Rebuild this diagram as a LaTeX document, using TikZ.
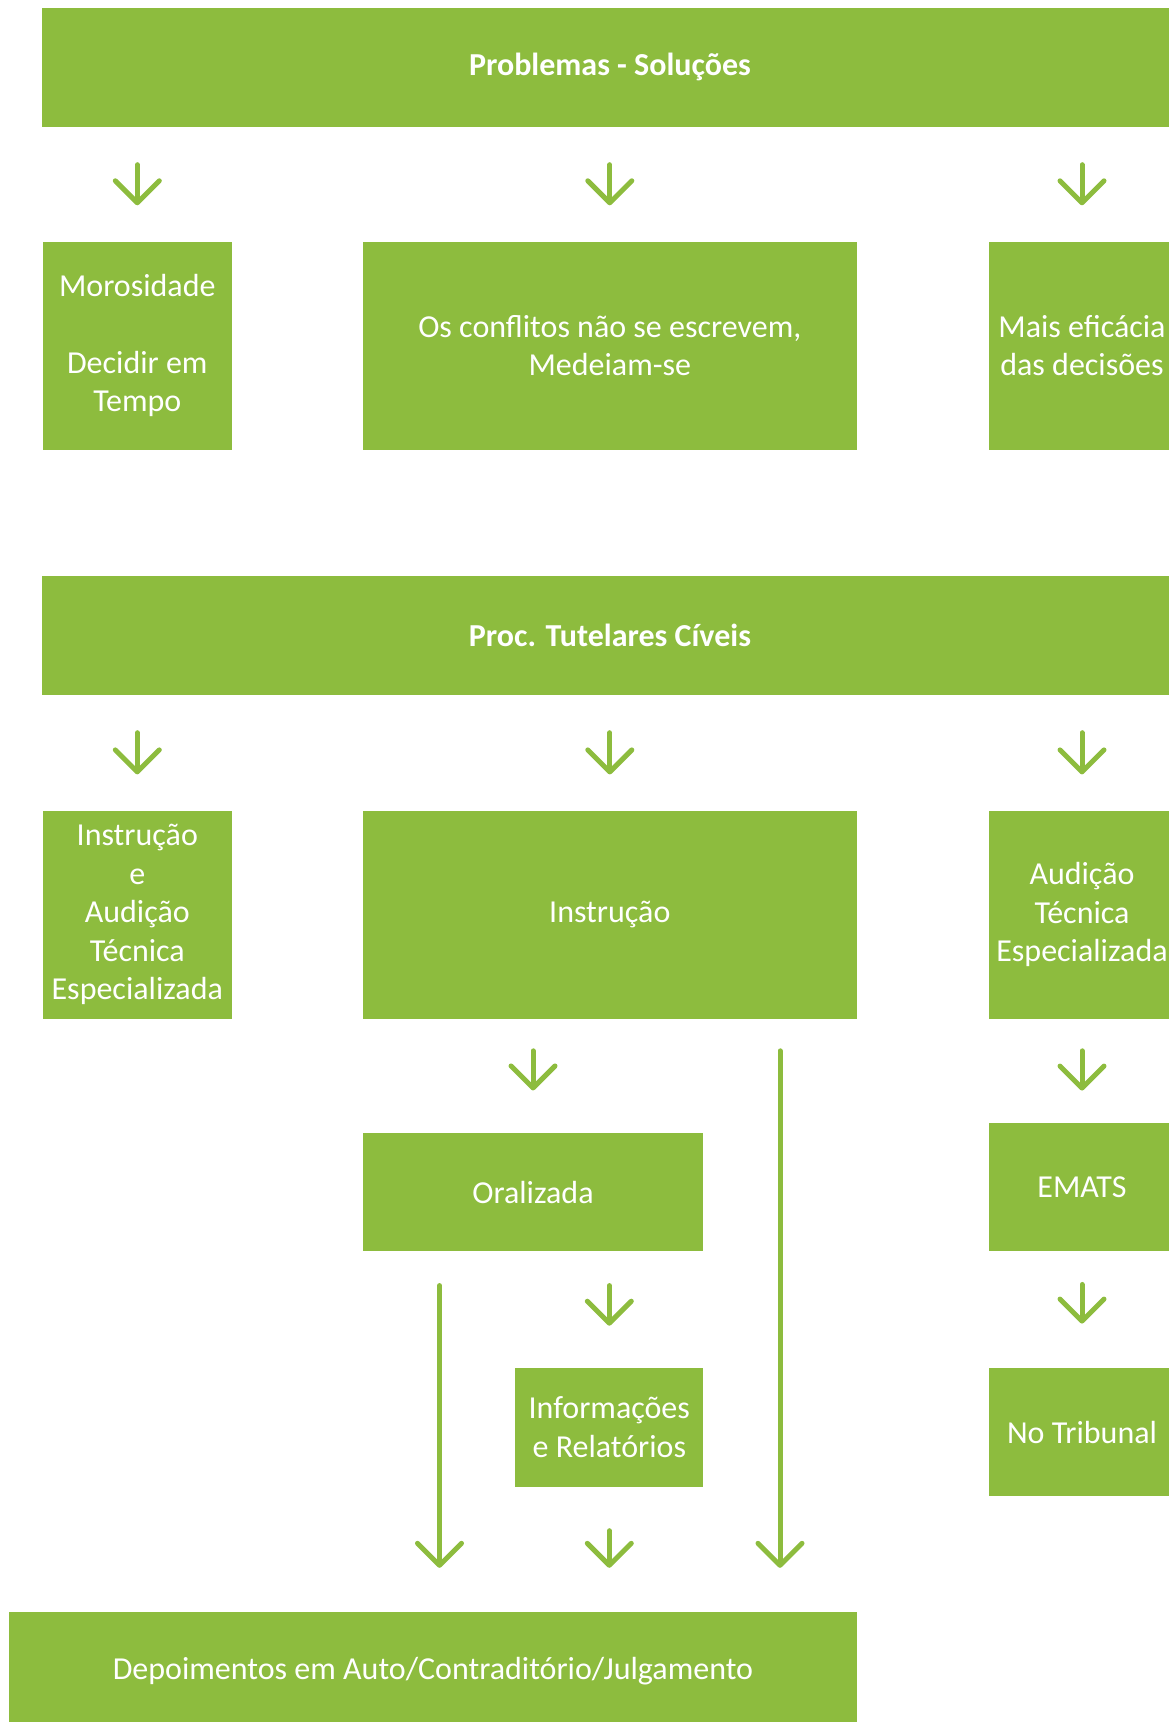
\documentclass[tikz,border=0pt]{standalone}
\usepackage{fontspec}
\setmainfont{Carlito}
\usetikzlibrary{arrows.meta}
\definecolor{leafgreen}{RGB}{141,188,62}

\begin{document}
\begin{tikzpicture}[x=1pt,y=-1pt]
	\tikzstyle{banner} = [fill=leafgreen,text=white,font=\bfseries\fontsize{32}{38.5}\selectfont,minimum height=119pt,inner sep=0pt]
	\tikzstyle{box} = [fill=leafgreen,text=white,font=\fontsize{32}{38.5}\selectfont,align=center,inner sep=0pt]
	\tikzstyle{flow} = [draw=leafgreen,line width=5pt,line cap=round,-{Straight Barb[length=22pt,width=44pt,round]}]
	\clip (0,0) rectangle (1169,1722);
	% problems row
	\node[banner,minimum width=1136pt] (problems) at (610,67) {Problemas - Soluções};
	\node[box,minimum width=189pt,minimum height=208pt] (moro) at (137.3,345.5) {Morosidade\\[38.5pt]Decidir em\\Tempo};
	\node[box,minimum width=494pt,minimum height=208pt] (conflitos) at (609.8,345.5) {Os conflitos não se escrevem,\\Medeiam-se};
	\node[box,minimum width=187pt,minimum height=208pt] (eficacia) at (1082,345.5) {Mais eficácia\\das decisões};
	% tutelares row
	\node[banner,minimum width=1136pt] (tutelares) at (610,635) {Proc. Tutelares Cíveis};
	\node[box,minimum width=189pt,minimum height=208pt] (instaud) at (137.3,914.6) {Instrução\\e\\Audição\\Técnica\\Especializada};
	\node[box,minimum width=494pt,minimum height=208pt] (instrucao) at (609.8,914.6) {Instrução};
	\node[box,minimum width=187pt,minimum height=208pt] (audicao) at (1082,914.6) {Audição\\Técnica\\Especializada};
	% lower boxes
	\node[box,minimum width=340.6pt,minimum height=118.7pt] (oral) at (533,1192) {Oralizada};
	\node[box,minimum width=187pt,minimum height=128.5pt] (emats) at (1082,1187) {EMATS};
	\node[box,minimum width=188pt,minimum height=118.6pt] (info) at (609.3,1427.2) {Informações\\e Relatórios};
	\node[box,minimum width=187pt,minimum height=128.5pt] (tribunal) at (1082,1432) {No Tribunal};
	\node[box,minimum width=848pt,minimum height=119pt] (depo) at (433,1671.5) {Depoimentos em Auto/Contraditório/Julgamento};
	% arrows banner->boxes
	\foreach \n in {moro,conflitos,eficacia}
		\draw[flow,shorten <=38pt,shorten >=36pt] (\n.north |- problems.south) -- (\n.north);
	\foreach \n in {instaud,instrucao,audicao}
		\draw[flow,shorten <=38pt,shorten >=36pt] (\n.north |- tutelares.south) -- (\n.north);
	% instrucao branch
	\draw[flow,shorten <=32pt,shorten >=42pt] (oral.north |- instrucao.south) -- (oral.north);
	\draw[flow,shorten <=34pt,shorten >=42pt] (info.north |- oral.south) -- (info.north);
	\draw[flow,shorten <=44pt,shorten >=44pt] (info.south) -- (info.south |- depo.north);
	\draw[flow,shorten <=34pt,shorten >=44pt] ([xshift=77pt]oral.south west) -- ([xshift=77pt]oral.south west |- depo.north);
	\draw[flow,shorten <=32pt,shorten >=44pt] ([xshift=-77pt]instrucao.south east) -- ([xshift=-77pt]instrucao.south east |- depo.north);
	% audicao branch
	\draw[flow,shorten <=32pt,shorten >=32pt] (audicao.south) -- (emats.north);
	\draw[flow,shorten <=33pt,shorten >=44pt] (emats.south) -- (tribunal.north);
\end{tikzpicture}
\end{document}
